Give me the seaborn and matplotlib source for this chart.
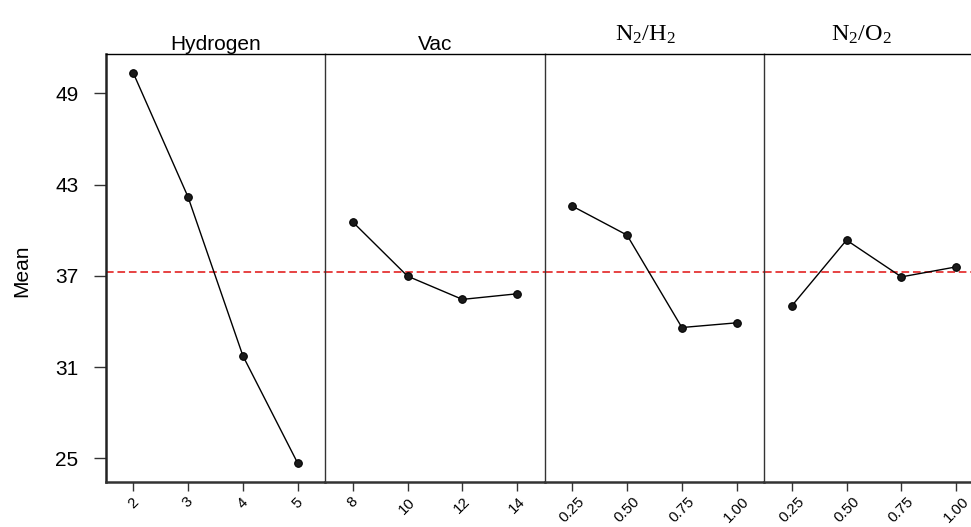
import matplotlib
matplotlib.use("Agg")
import matplotlib.pyplot as plt
import seaborn as sns
import pandas as pd
import numpy as np

# ---- data ----
factors = ["Hydrogen", "Vac", "N2/H2", "N2/O2"]
hydrogen_levels = ["2", "3", "4", "5"]
hydrogen_means = [50.36, 42.19, 31.74, 24.67]
vac_levels = ["8", "10", "12", "14"]
vac_means = [40.55, 36.98, 35.45, 35.82]
n2h2_levels = ["0.25", "0.50", "0.75", "1.00"]
n2h2_means = [41.59, 39.68, 33.60, 33.91]
n2o2_levels = ["0.25", "0.50", "0.75", "1.00"]
n2o2_means = [35.01, 39.35, 36.93, 37.59]
grand_mean = 37.22
y_ticks = [25, 31, 37, 43, 49]

levels = [hydrogen_levels, vac_levels, n2h2_levels, n2o2_levels]
means = [hydrogen_means, vac_means, n2h2_means, n2o2_means]

sns.set_style("white")
plt.rcParams["font.family"] = ["Liberation Sans", "DejaVu Sans"]
plt.rcParams["text.color"] = "black"
plt.rcParams["xtick.color"] = "black"
plt.rcParams["ytick.color"] = "black"
plt.rcParams["axes.labelcolor"] = "black"
plt.rcParams["mathtext.fontset"] = "custom"
plt.rcParams["mathtext.rm"] = "Liberation Serif"
plt.rcParams["mathtext.it"] = "Liberation Serif:italic"

W, H = 971, 527
fig = plt.figure(figsize=(W / 100, H / 100), dpi=100)

left_px, top_px, bot_px = 105.7, 54.0, 482.3
panel_w = 219.5
ax_h = (bot_px - top_px) / H

titles_sans = {"Hydrogen": "Hydrogen", "Vac": "Vac"}
titles_serif = {"N2/H2": (r"N$_2$/H$_2$", 0.458), "N2/O2": (r"N$_2$/O$_2$", 0.442)}

for i, (fac, lv, mv) in enumerate(zip(factors, levels, means)):
    ax = fig.add_axes([(left_px + i * panel_w) / W, 1 - bot_px / H, panel_w / W, ax_h])
    df = pd.DataFrame({"level": lv, "mean": mv})
    sns.pointplot(data=df, x="level", y="mean", order=lv, color="black",
                  errorbar=None, markers="o", linestyles="-", ax=ax,
                  markersize=5.5, linewidth=1.0,
                  markerfacecolor="#1a1a1a", markeredgecolor="black")
    ax.axhline(grand_mean, color="#e01010", lw=1.1, ls=(0, (5, 2.5)), zorder=1)
    ax.set_ylim(23.42, 51.59)
    ax.set_xlim(-0.5, 3.5)
    ax.set_xlabel("")
    ax.set_ylabel("")
    ax.set_yticks(y_ticks)
    ax.spines["right"].set_visible(False)
    ax.spines["top"].set_linewidth(1.0)
    ax.spines["top"].set_color("black")
    ax.spines["bottom"].set_linewidth(1.8)
    ax.spines["bottom"].set_color("#333333")
    if i == 0:
        ax.spines["left"].set_linewidth(1.8)
        ax.spines["left"].set_color("#222222")
        ax.tick_params(axis="y", left=True, length=8.6, width=1.0, pad=11,
                       labelsize=15, color="#333333", labelcolor="black")
    else:
        ax.spines["left"].set_linewidth(1.0)
        ax.spines["left"].set_color("#333333")
        ax.tick_params(axis="y", left=False, labelleft=False)
    ax.tick_params(axis="x", bottom=True, length=6.5, width=1.0, pad=2.5,
                   labelsize=10.8, color="#333333", labelcolor="black")
    for lab in ax.get_xticklabels():
        lab.set_rotation(45)
        lab.set_ha("center")
        lab.set_va("top")
    if fac in titles_sans:
        ax.text(0.5, 1 + 4.0 / (bot_px - top_px), titles_sans[fac],
                transform=ax.transAxes, ha="center", va="baseline",
                fontsize=15)
    else:
        txt, xf = titles_serif[fac]
        ax.text(xf, 1 + 13.0 / (bot_px - top_px), txt,
                transform=ax.transAxes, ha="center", va="baseline",
                fontsize=17.5, family=["Liberation Serif", "DejaVu Serif"])
    ax.grid(False)

fig.text(21.6 / W, 1 - 271 / H, "Mean", rotation=90, ha="center", va="center",
         fontsize=15)

fig.savefig("out.png", dpi=100)
